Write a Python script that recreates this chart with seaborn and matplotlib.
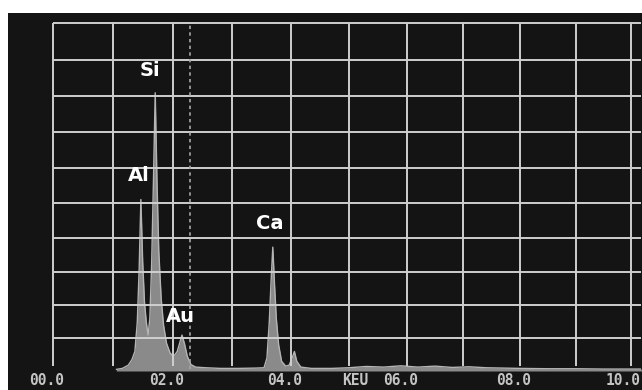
import matplotlib
matplotlib.use("Agg")
import matplotlib.pyplot as plt
import matplotlib.transforms as mtransforms
import numpy as np
import pandas as pd
import seaborn as sns

# EDS spectrum: energy (keV) vs. counts (screen divisions)
energy = [1.05, 1.15, 1.25, 1.31, 1.36, 1.40, 1.43, 1.46, 1.49, 1.52, 1.55,
          1.58, 1.61, 1.64, 1.67, 1.70, 1.73, 1.76, 1.80, 1.84, 1.89, 1.95,
          2.01, 2.07, 2.11, 2.15, 2.19, 2.24, 2.30, 2.38, 2.55, 2.80, 3.10,
          3.40, 3.54, 3.59, 3.63, 3.66, 3.69, 3.72, 3.75, 3.79, 3.84, 3.91,
          3.97, 4.02, 4.06, 4.10, 4.17, 4.35, 4.70, 5.00, 5.30, 5.60, 5.90,
          6.20, 6.50, 6.80, 7.10, 7.40, 7.70, 8.00, 8.50, 9.00, 9.50, 10.20]
counts = [0.05, 0.08, 0.18, 0.35, 0.60, 1.50, 3.00, 5.10, 3.30, 2.10, 1.50,
          1.10, 1.60, 3.20, 5.60, 8.10, 5.60, 3.60, 2.20, 1.40, 0.85, 0.55,
          0.45, 0.60, 0.85, 1.10, 0.85, 0.45, 0.20, 0.12, 0.10, 0.08, 0.08,
          0.09, 0.10, 0.40, 1.50, 2.70, 3.72, 2.60, 1.60, 0.80, 0.30, 0.15,
          0.18, 0.40, 0.60, 0.30, 0.12, 0.08, 0.08, 0.10, 0.14, 0.12, 0.16,
          0.12, 0.15, 0.11, 0.13, 0.10, 0.09, 0.08, 0.07, 0.07, 0.06, 0.06]

# Element line labels
elements = ["Si", "Al", "Au", "Ca"]
element_kev = [1.61, 1.43, 2.12, 3.64]
element_level = [8.70, 5.80, 1.65, 4.42]

# Energy marker (dashed cursor)
cursor_kev = 2.29

# Axis annotations
tick_values = [0, 2, 4, 6, 8, 10]
tick_labels = ["00.0", "02.0", "04.0", "06.0", "08.0", "10.0"]
unit_label = "KEU"
unit_kev = 5.10


# The CRT screen grid is slightly compressed towards the right and bottom;
# these mappings give the on-screen pixel offset for energy / count values.
def x_fwd(x):
    x = np.asarray(x, dtype=float)
    return 60.6 * x - 0.28 * x ** 2


def x_inv(p):
    p = np.asarray(p, dtype=float)
    return (60.6 - np.sqrt(np.maximum(60.6 ** 2 - 4 * 0.28 * p, 0))) / (2 * 0.28)


def y_fwd(y):
    y = np.asarray(y, dtype=float)
    return 32.4 * y + 0.24 * y ** 2


def y_inv(p):
    p = np.asarray(p, dtype=float)
    return (-32.4 + np.sqrt(np.maximum(32.4 ** 2 + 4 * 0.24 * p, 0))) / (2 * 0.24)


sns.set_style("dark", {"axes.facecolor": "none", "figure.facecolor": "white"})

W, H = 642, 390
fig = plt.figure(figsize=(W / 100, H / 100), dpi=100)

# Black screen panel behind the plot
bg = fig.add_axes([8 / W, 0, 1 - 8 / W, 1 - 13 / H], zorder=0)
bg.set_facecolor("#141414")
bg.set_xticks([])
bg.set_yticks([])
for s in bg.spines.values():
    s.set_visible(False)

xlim = (-0.1, 10.18)
ylim = (-0.05, 10.1)
x0_px, y0_px = 53, 371
left_px = x0_px + float(x_fwd(xlim[0]))
right_px = x0_px + float(x_fwd(xlim[1]))
bottom_px = y0_px - float(y_fwd(ylim[0]))
top_px = y0_px - float(y_fwd(ylim[1]))
ax = fig.add_axes([left_px / W, 1 - bottom_px / H,
                   (right_px - left_px) / W, (bottom_px - top_px) / H],
                  zorder=1)
ax.set_xscale("function", functions=(x_fwd, x_inv))
ax.set_yscale("function", functions=(y_fwd, y_inv))
ax.set_facecolor("none")
for s in ax.spines.values():
    s.set_visible(False)

df = pd.DataFrame({"energy": energy, "counts": counts})

# Spectrum
ax.fill_between(df["energy"], 0, df["counts"], color="#a0a0a0",
                alpha=0.85, linewidth=0, zorder=1)
sns.lineplot(data=df, x="energy", y="counts", ax=ax, color="#b4b4b4",
             linewidth=1.0, zorder=1.5, sort=False)
ax.set_xlabel("")
ax.set_ylabel("")
ax.set_xticks([])
ax.set_yticks([])
ax.minorticks_off()
ax.set_xlim(*xlim)
ax.set_ylim(*ylim)

# Screen grid
grid_color = "#cfcfcf"
ax.hlines(np.arange(1, 11), 0, xlim[1], color=grid_color, linewidth=1.4,
          zorder=2)
ax.vlines(np.arange(0, 11), 0.15, 10, color=grid_color, linewidth=1.4,
          zorder=2)

# Cursor line
ax.vlines(cursor_kev, 0.05, 10, color="#a8a8a8", linewidth=1.2,
          linestyles=[(0, (2.0, 2.0))], zorder=2.5)

# Element labels
for name, xk, lv in zip(elements, element_kev, element_level):
    ax.text(xk, lv, name, color="white", fontsize=14, fontweight="bold",
            family="DejaVu Sans", ha="center", va="center", zorder=4)

# Energy axis labels
trans = mtransforms.blended_transform_factory(ax.transData, ax.transAxes)
shift = mtransforms.ScaledTranslation(-6 / 100, 0, fig.dpi_scale_trans)
label_style = dict(va="center", color="#c4c4c4", fontsize=10.5,
                   family="DejaVu Sans Mono", fontweight="bold",
                   clip_on=False)
for v, lab in zip(tick_values, tick_labels):
    if v == tick_values[-1]:
        ax.text(xlim[1], -0.021, lab, transform=trans, ha="right",
                **label_style)
    else:
        ax.text(v, -0.021, lab, transform=trans + shift, ha="center",
                **label_style)
ax.text(unit_kev, -0.021, unit_label, transform=trans, ha="center",
        **label_style)

fig.savefig("out.png", dpi=100)
